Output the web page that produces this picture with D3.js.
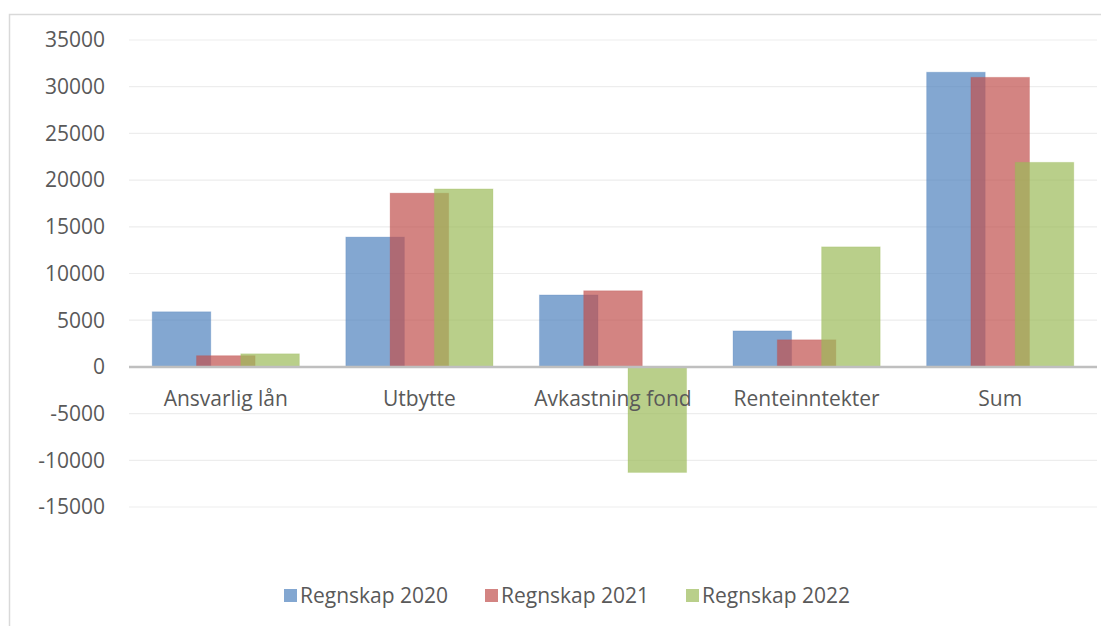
<!DOCTYPE html>
<html lang="no">
<head>
<meta charset="UTF-8">
<title>Regnskap</title>
<script src="https://d3js.org/d3.v7.min.js"></script>
<style>
  body { margin: 0; background: #fff; }
  svg text { font-family: "Open Sans", sans-serif; fill: #595959; }
</style>
</head>
<body>
<svg id="chart" width="1101" height="626"></svg>
<script>
// data
const categories = ["Ansvarlig lån", "Utbytte", "Avkastning fond", "Renteinntekter", "Sum"];
const seriesNames = ["Regnskap 2020", "Regnskap 2021", "Regnskap 2022"];
const regnskap2020 = [5900, 13900, 7700, 3850, 31550];
const regnskap2021 = [1200, 18600, 8150, 2900, 31000];
const regnskap2022 = [1400, 19050, -11300, 12850, 21900];
const yTicks = [35000, 30000, 25000, 20000, 15000, 10000, 5000, 0, -5000, -10000, -15000];
const colors = ["#4F81BD", "#C0504D", "#9BBB59"];

const series = [regnskap2020, regnskap2021, regnskap2022];

const svg = d3.select("#chart");
const plot = { left: 129, right: 1097, top: 40, bottom: 507 };

// chart frame (only left and top edges visible)
svg.append("path")
  .attr("d", "M9.5,626 L9.5,14.5 L1101,14.5")
  .attr("fill", "none")
  .attr("stroke", "#d9d9d9")
  .attr("stroke-width", 1.5);

const y = d3.scaleLinear().domain([-15000, 35000]).range([plot.bottom, plot.top]);
const x = d3.scaleBand().domain(categories).range([plot.left, plot.right])
  .paddingInner(0.24).paddingOuter(0.12);

// gridlines
svg.append("g").selectAll("line").data(yTicks.filter(d => d !== 0)).join("line")
  .attr("x1", plot.left).attr("x2", plot.right)
  .attr("y1", d => y(d)).attr("y2", d => y(d))
  .attr("stroke", "#ededed").attr("stroke-width", 1.2);

// y tick labels
svg.append("g").selectAll("text").data(yTicks).join("text")
  .attr("x", 105).attr("y", d => y(d))
  .attr("dy", "0.35em")
  .attr("text-anchor", "end")
  .style("font-size", "21px")
  .text(d => d);

// bars: overlapping, semi transparent
const bw = x.bandwidth();
const barW = bw * 0.398;
const step = (bw - barW) / 2;
series.forEach((vals, i) => {
  svg.append("g").selectAll("rect").data(vals).join("rect")
    .attr("x", (d, j) => x(categories[j]) + i * step)
    .attr("width", barW)
    .attr("y", d => y(Math.max(0, d)))
    .attr("height", d => Math.abs(y(d) - y(0)))
    .attr("fill", colors[i])
    .attr("fill-opacity", 0.7)
    .attr("stroke", colors[i])
    .attr("stroke-opacity", 0.25)
    .attr("stroke-width", 1);
});

// zero axis line
svg.append("line")
  .attr("x1", plot.left).attr("x2", plot.right)
  .attr("y1", y(0)).attr("y2", y(0))
  .attr("stroke", "#bfbfbf").attr("stroke-width", 2.5);

// category labels
svg.append("g").selectAll("text").data(categories).join("text")
  .attr("x", d => x(d) + bw / 2)
  .attr("y", 406)
  .attr("text-anchor", "middle")
  .style("font-size", "21px")
  .text(d => d);

// legend
const legendX = [284, 485, 686];
const legend = svg.append("g").selectAll("g").data(seriesNames).join("g")
  .attr("transform", (d, i) => `translate(${legendX[i]},589)`);
legend.append("rect")
  .attr("width", 13).attr("height", 13)
  .attr("fill", (d, i) => colors[i]).attr("fill-opacity", 0.7);
legend.append("text")
  .attr("x", 16).attr("y", 6.5).attr("dy", "0.35em")
  .style("font-size", "21px")
  .text(d => d);
</script>
</body>
</html>
